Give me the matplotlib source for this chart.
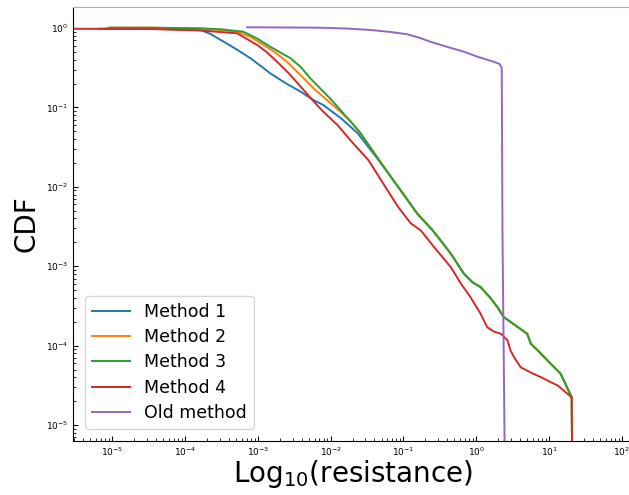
import numpy as np
import matplotlib
matplotlib.use('Agg')
import matplotlib.pyplot as plt

# log10(resistance) and log10(CDF) for each method
m1_x = [-5.19, -4.48, -3.93, -3.79, -3.65, -3.51, -3.31, -3.10, -2.96, -2.83, -2.62, -2.41,
        -2.235, -2.10, -1.86, -1.63, -1.27, -1.04, -0.81, -0.60, -0.49, -0.35, -0.17, -0.05,
        0.06, 0.20, 0.29, 0.38, 0.54, 0.70, 0.75, 0.86, 0.98, 1.16, 1.31]
m1_y = [-0.009, -0.010, -0.019, -0.025, -0.076, -0.151, -0.259, -0.382, -0.479, -0.571, -0.694, -0.803,
        -0.908, -0.971, -1.135, -1.324, -1.749, -2.043, -2.337, -2.547, -2.674, -2.841, -3.093, -3.203,
        -3.262, -3.405, -3.514, -3.641, -3.745, -3.850, -3.976, -4.073, -4.187, -4.354, -4.649]

m2_x = [-5.07, -4.48, -3.79, -3.51, -3.285, -3.10, -2.92, -2.76, -2.60, -2.37, -2.21, -2.05,
        -1.86, -1.73, -1.59, -1.27, -1.04, -0.81, -0.60, -0.49, -0.35, -0.17, -0.05,
        0.06, 0.20, 0.29, 0.38, 0.54, 0.70, 0.75, 0.86, 0.98, 1.16, 1.31]
m2_y = [0.004, 0.004, -0.009, -0.025, -0.047, -0.113, -0.214, -0.309, -0.425, -0.634, -0.782, -0.908,
        -1.059, -1.173, -1.324, -1.749, -2.043, -2.337, -2.547, -2.674, -2.841, -3.093, -3.203,
        -3.262, -3.405, -3.514, -3.641, -3.745, -3.850, -3.976, -4.073, -4.187, -4.354, -4.649]

m3_x = [-5.03, -4.48, -3.79, -3.51, -3.20, -3.01, -2.83, -2.55, -2.41, -2.28, -2.00, -1.73,
        -1.59, -1.27, -1.04, -0.81, -0.60, -0.49, -0.35, -0.17, -0.05,
        0.06, 0.20, 0.29, 0.38, 0.54, 0.70, 0.75, 0.86, 0.98, 1.16, 1.31, 1.33]
m3_y = [0.004, 0.004, -0.004, -0.016, -0.047, -0.132, -0.236, -0.382, -0.492, -0.634, -0.895, -1.173,
        -1.324, -1.749, -2.043, -2.337, -2.547, -2.674, -2.841, -3.093, -3.203,
        -3.262, -3.405, -3.514, -3.641, -3.745, -3.850, -3.976, -4.073, -4.187, -4.354, -4.649, -7.0]

m4_x = [-5.8, -4.48, -3.79, -3.285, -3.01, -2.88, -2.735, -2.58, -2.41, -2.25, -2.10, -1.905,
        -1.73, -1.48, -1.22, -1.07, -0.90, -0.76, -0.58, -0.35, -0.21, -0.08, 0.06, 0.15,
        0.24, 0.34, 0.43, 0.47, 0.52, 0.61, 0.75, 0.89, 1.12, 1.31, 1.33]
m4_y = [-0.009, -0.013, -0.032, -0.067, -0.214, -0.303, -0.425, -0.567, -0.740, -0.908, -1.055, -1.223,
        -1.412, -1.665, -2.043, -2.257, -2.459, -2.55, -2.758, -3.010, -3.219, -3.388, -3.598, -3.767,
        -3.821, -3.850, -3.934, -4.060, -4.145, -4.271, -4.338, -4.397, -4.502, -4.649, -7.0]

old_x = [-3.147, -2.185, -1.795, -1.45, -1.18, -0.95, -0.79, -0.63, -0.39, -0.17, 0.03, 0.24,
         0.32, 0.35, 0.36, 0.39, 0.41]
old_y = [0.009, 0.004, -0.006, -0.025, -0.050, -0.079, -0.120, -0.173, -0.240, -0.299, -0.366, -0.425,
         -0.454, -0.504, -2.547, -5.3, -7.0]

labels = ['Method 1', 'Method 2', 'Method 3', 'Method 4', 'Old method']
series = [(m1_x, m1_y), (m2_x, m2_y), (m3_x, m3_y), (m4_x, m4_y), (old_x, old_y)]
colors = ['#1f77b4', '#ff7f0e', '#2ca02c', '#d62728', '#9467bd']

fig = plt.figure(figsize=(6.29, 4.95), dpi=100)
ax = fig.add_axes([0.116, 0.109, 0.890, 0.877])

for (xs, ys), lab, c in zip(series, labels, colors):
    ax.plot(10 ** np.array(xs), 10 ** np.array(ys), color=c, lw=1.4, label=lab)

ax.set_xscale('log')
ax.set_yscale('log')
ax.set_xlim(10 ** -5.54, 10 ** 2.15)
ax.set_ylim(10 ** -5.2, 10 ** 0.265)

ax.tick_params(which='both', direction='in', labelsize=6.5, top=False, right=False)
ax.spines['top'].set_color('#b0b0b0')
ax.spines['right'].set_visible(False)

ax.set_xlabel('Log$_{10}$(resistance)', fontsize=20, labelpad=0)
ax.set_ylabel('CDF', fontsize=20, labelpad=4)

ax.legend(loc='lower left', fontsize=12.5, handlelength=2.2, labelspacing=0.42,
          borderaxespad=0.7)

fig.savefig('out.png', dpi=100)
